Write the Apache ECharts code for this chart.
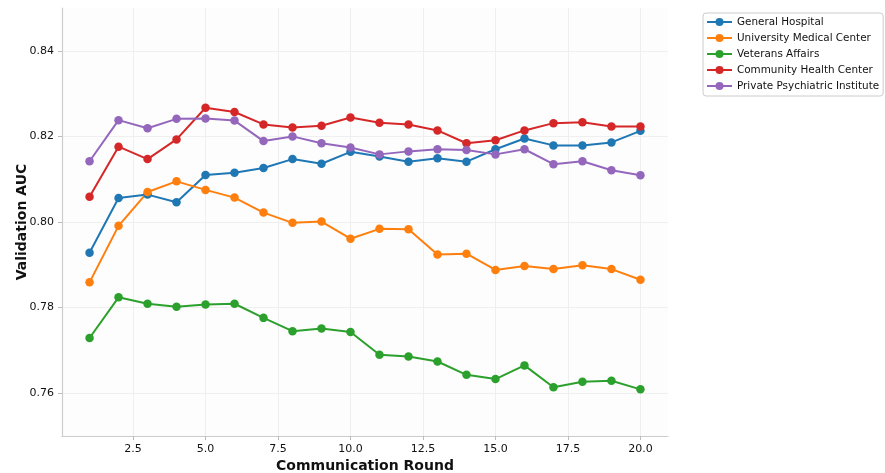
<!DOCTYPE html>
<html>
<head>
<meta charset="utf-8">
<script src="https://cdn.jsdelivr.net/npm/echarts@6/dist/echarts.min.js"></script>
<style>
  html, body { margin: 0; padding: 0; background: #fff; }
  #chart { width: 885px; height: 473px; }
</style>
</head>
<body>
<div id="chart"></div>
<script>
// rounds 1..20
const rounds = [1, 2, 3, 4, 5, 6, 7, 8, 9, 10, 11, 12, 13, 14, 15, 16, 17, 18, 19, 20]
const xTicks = [2.5, 5, 7.5, 10, 12.5, 15, 17.5, 20]
const yTicks = [0.76, 0.78, 0.80, 0.82, 0.84]

const generalHospital = [0.7928, 0.8056, 0.8064, 0.8046, 0.8110, 0.8115, 0.8126, 0.8147, 0.8136, 0.8164,
  0.8153, 0.8141, 0.8149, 0.8141, 0.8170, 0.8195, 0.8179, 0.8179, 0.8186, 0.8213]
const universityMedical = [0.7859, 0.7991, 0.8070, 0.8095, 0.8075, 0.8057, 0.8022, 0.7998, 0.8001, 0.7961,
  0.7984, 0.7983, 0.7924, 0.7926, 0.7888, 0.7897, 0.7890, 0.7899, 0.7890, 0.7865]
const veteransAffairs = [0.7729, 0.7824, 0.7809, 0.7802, 0.7807, 0.7809, 0.7776, 0.7745, 0.7751, 0.7743,
  0.7690, 0.7686, 0.7674, 0.7643, 0.7633, 0.7665, 0.7614, 0.7627, 0.7629, 0.7609]
const communityHealth = [0.8059, 0.8176, 0.8147, 0.8193, 0.8267, 0.8257, 0.8228, 0.8221, 0.8225, 0.8244,
  0.8232, 0.8228, 0.8214, 0.8184, 0.8191, 0.8214, 0.8231, 0.8233, 0.8223, 0.8223]
const privatePsych = [0.8142, 0.8238, 0.8219, 0.8241, 0.8242, 0.8237, 0.8189, 0.8200, 0.8184, 0.8174,
  0.8158, 0.8165, 0.8170, 0.8168, 0.8158, 0.8170, 0.8135, 0.8142, 0.8121, 0.8109]

const names = ['General Hospital', 'University Medical Center', 'Veterans Affairs', 'Community Health Center', 'Private Psychiatric Institute']
const colors = ['#1f77b4', '#ff7f0e', '#2ca02c', '#d62728', '#9467bd']
const values = [generalHospital, universityMedical, veteransAffairs, communityHealth, privatePsych]

const chart = echarts.init(document.getElementById('chart'), null, { renderer: 'canvas' })

const axisFont = { fontFamily: 'DejaVu Sans', fontSize: 11, color: '#111' }

const option = {
  animation: false,
  backgroundColor: '#ffffff',
  textStyle: { fontFamily: 'DejaVu Sans' },
  grid: {
    left: 62, top: 8, width: 606, height: 428,
    outerBoundsMode: 'none',
    containLabel: false,
    show: true, backgroundColor: '#fdfdfd', borderWidth: 0
  },
  legend: {
    orient: 'vertical',
    left: 703, top: 13,
    padding: [4, 4, 5, 3],
    itemGap: 6,
    itemWidth: 25, itemHeight: 10,
    borderColor: '#cccccc', borderWidth: 1, borderRadius: 3,
    backgroundColor: '#ffffff',
    textStyle: { fontFamily: 'DejaVu Sans', fontSize: 10.4, color: '#111' },
    data: names
  },
  xAxis: {
    type: 'value',
    min: 0.05, max: 20.95,
    name: 'Communication Round',
    nameLocation: 'middle',
    nameGap: 23,
    nameMoveOverlap: false,
    nameTextStyle: { fontFamily: 'DejaVu Sans', fontSize: 14, fontWeight: 'bold', color: '#111' },
    axisLine: { show: true, lineStyle: { color: '#cccccc', width: 1.2 } },
    axisTick: { show: true, customValues: xTicks, length: 4, lineStyle: { color: '#bbbbbb' } },
    axisLabel: { customValues: xTicks, formatter: v => v.toFixed(1), margin: 8, ...axisFont },
    splitLine: { show: true, lineStyle: { color: '#efefef', width: 1 } }
  },
  yAxis: {
    type: 'value',
    min: 0.75, max: 0.85,
    name: 'Validation AUC',
    nameLocation: 'middle',
    nameGap: 33,
    nameMoveOverlap: false,
    nameTextStyle: { fontFamily: 'DejaVu Sans', fontSize: 14, fontWeight: 'bold', color: '#111' },
    axisLine: { show: true, lineStyle: { color: '#cccccc', width: 1.2 } },
    axisTick: { show: true, customValues: yTicks, length: 4, lineStyle: { color: '#bbbbbb' } },
    axisLabel: { customValues: yTicks, formatter: v => v.toFixed(2), margin: 8, ...axisFont },
    splitLine: { show: true, lineStyle: { color: '#efefef', width: 1 } }
  },
  series: names.map((n, i) => ({
    name: n,
    type: 'line',
    data: rounds.map((r, j) => [r, values[i][j]]),
    symbol: 'circle',
    symbolSize: 8.5,
    showSymbol: true,
    itemStyle: { color: colors[i] },
    lineStyle: { color: colors[i], width: 2 }
  }))
}

chart.setOption(option)
</script>
</body>
</html>
